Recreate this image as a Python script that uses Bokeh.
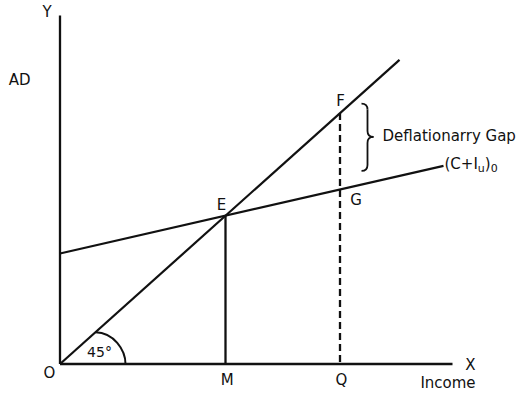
from bokeh.plotting import figure
from bokeh.models import Range1d
from bokeh.embed import file_html
from bokeh.resources import INLINE
from bokeh.core.properties import value

# ---------------- data (income units; 45-degree line is AD = Y) ----------------
m_income = 165.5          # equilibrium income M (point E)
q_income = 280.0          # full-employment income Q (points F, G)
ci_intercept = 123.3      # autonomous (C+I)0 at zero income
ci_slope = 0.255          # slope of (C+I)0
line45_end = 339.5
ci_end = 383.5
y_axis_top = 388.9
x_axis_end = 392.5

# brace (Deflationary gap) in data units
brace_x = [301.5, 307.5, 313.5]      # left end, stem, tip
brace_y = [290.7, 253.4, 215.5]      # top, tip, bottom
brace_r = 6.7

# 45 degree angle marker (elliptic arc) in data units
arc_start_x = 35.5
arc_end_x = 65.5
arc_top_y = 35.2

# text labels
label_text = ["Y", "AD", "O", "M", "Q", "X", "Income", "E", "F", "G", "Deflationarry Gap"]
label_x = [-12.8, -51.2, -10.5, 167.2, 281.3, 410.5, 388.0, 161.5, 280.5, 296.0, 322.5]
label_y = [392.6, 317.3, -10.6, -18.4, -17.3, -0.6, -21.0, 177.2, 294.0, 182.5, 255.0]
label_align = ["center", "left", "center", "center", "center", "center", "center",
               "center", "center", "center", "left"]
angle_text = "45°"
angle_x, angle_y = 39.5, 13.2
ci_label_x, ci_label_y = 384.5, 222.7

# ---------------- figure ----------------
KY = 0.896                 # screen px per AD unit (x is 1 px per income unit)
W, H = 527, 393
ORIGIN_SX, ORIGIN_SY = 59.5, 363.5
xs = -ORIGIN_SX
ye = ORIGIN_SY / KY

p = figure(width=W, height=H, output_backend="svg", toolbar_location=None,
           x_range=Range1d(xs, xs + W), y_range=Range1d(ye - H / KY, ye),
           x_axis_location=None, y_axis_location=None, min_border=0)
p.outline_line_color = None
p.grid.visible = False
p.background_fill_color = "white"
p.border_fill_color = "white"

LW = 2.3
INK = "#111111"

# axes
p.line([0, 0], [0, y_axis_top], line_width=LW, line_color=INK)
p.line([0, x_axis_end], [0, 0], line_width=LW, line_color=INK)

# 45 degree line
p.line([0, line45_end], [0, line45_end], line_width=2.2, line_color=INK)

# (C+I)0 line
p.line([0, ci_end], [ci_intercept, ci_intercept + ci_slope * ci_end], line_width=2.2, line_color=INK)

# E to M
p.line([m_income, m_income], [m_income, 0], line_width=LW, line_color=INK)

# F to Q dashed
p.line([q_income, q_income], [q_income, 0], line_width=LW, line_color=INK, line_dash="7 4")

# angle arc
p.bezier(x0=[arc_start_x], y0=[arc_start_x], x1=[arc_end_x], y1=[0],
         cx0=[arc_start_x + 0.6 * (arc_end_x - arc_start_x)], cy0=[arc_top_y],
         cx1=[arc_end_x], cy1=[arc_top_y * 0.45], line_width=2.0, line_color=INK)

# brace
bx0, bxm, bxt = brace_x
bt, bm, bb = brace_y
p.quadratic(x0=[bx0, bxm, bxt, bxm], y0=[bt, bm + brace_r, bm, bb + brace_r],
            x1=[bxm, bxt, bxm, bx0], y1=[bt - brace_r, bm, bm - brace_r, bb],
            cx=[bxm, bxm, bxm, bxm], cy=[bt, bm, bm, bb],
            line_width=1.8, line_color=INK)
p.segment(x0=[bxm, bxm], y0=[bt - brace_r, bm - brace_r], x1=[bxm, bxm], y1=[bm + brace_r, bb + brace_r],
          line_width=1.8, line_color=INK)

FONT = value("DejaVu Sans")
for t, x, y, a in zip(label_text, label_x, label_y, label_align):
    p.text(x=[x], y=[y], text=[t], text_font=FONT, text_font_size=value("15px"),
           text_align=a, text_baseline="middle", text_color=INK)

p.text(x=[angle_x], y=[angle_y], text=[angle_text], text_font=FONT, text_font_size=value("14px"),
       text_align="center", text_baseline="middle", text_color=INK)

# (C+Iu)0 label built from pieces
pieces = ["(C+I", "u", ")", "0"]
sizes = ["15px", "11px", "15px", "11px"]
xoffs = [0, 33.3, 40.3, 46.2]
yoffs = [0, 4, 0, 4]
for t, s, xo, yo in zip(pieces, sizes, xoffs, yoffs):
    p.text(x=[ci_label_x], y=[ci_label_y], text=[t], text_font=FONT, text_font_size=value(s),
           text_align="left", text_baseline="middle", text_color=INK, x_offset=xo, y_offset=yo)

open("out.html", "w").write(file_html(p, INLINE))
